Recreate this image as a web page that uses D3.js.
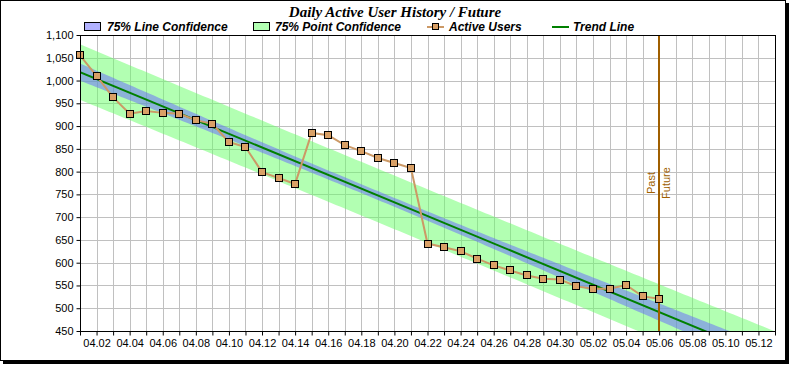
<!DOCTYPE html>
<html>
<head>
<meta charset="utf-8">
<script src="https://cdn.jsdelivr.net/npm/d3@7"></script>
<style>
  html, body { margin: 0; padding: 0; background: #fff; }
  svg { display: block; }
</style>
</head>
<body>
<svg id="chart" width="790" height="365"></svg>
<script>
// ---------- data ----------
const dates = ["04.01","04.02","04.03","04.04","04.05","04.06","04.07","04.08","04.09","04.10",
               "04.11","04.12","04.13","04.14","04.15","04.16","04.17","04.18","04.19","04.20",
               "04.21","04.22","04.23","04.24","04.25","04.26","04.27","04.28","04.29","04.30",
               "05.01","05.02","05.03","05.04","05.05","05.06"];
const activeUsers = [1055,1010,963,927,933,929,927,913,905,865,
                     854,799,786,773,885,880,858,845,830,819,
                     808,642,634,625,609,594,583,572,565,563,
                     548,543,543,551,526,521];
const xTickLabels = ["04.02","04.04","04.06","04.08","04.10","04.12","04.14","04.16","04.18","04.20",
                     "04.22","04.24","04.26","04.28","04.30","05.02","05.04","05.06","05.08","05.10","05.12"];
const yTicks = [450,500,550,600,650,700,750,800,850,900,950,1000,1050,1100];
const xDomain = ["04.01","05.13"];
const pastFutureDate = "05.06";
const confidence = 0.75;
const tValue = 1.168; // two-sided 75%, df = n-2 = 34
const legendItems = ["75% Line Confidence","75% Point Confidence","Active Users","Trend Line"];
const title = "Daily Active User History / Future";

// ---------- layout ----------
const W = 790, H = 365;
const plot = {left: 80, right: 775, top: 35, bottom: 331};
const parse = s => { const [m, d] = s.split(".").map(Number); return new Date(2024, m - 1, d); };

const svg = d3.select("#chart");
const x = d3.scaleTime().domain(xDomain.map(parse)).range([plot.left, plot.right]);
const y = d3.scaleLinear().domain([450, 1100]).range([plot.bottom, plot.top]);

// border with shadow
svg.append("rect").attr("x", 3).attr("y", 3).attr("width", 786).attr("height", 361).attr("fill", "#000");
svg.append("rect").attr("x", 0.5).attr("y", 0.5).attr("width", 785).attr("height", 360)
  .attr("fill", "#fff").attr("stroke", "#000").attr("stroke-width", 1);

// title
svg.append("text").attr("x", 395).attr("y", 17).attr("text-anchor", "middle")
  .attr("font-family", "'Liberation Serif','Times New Roman',serif")
  .attr("font-weight", "bold").attr("font-style", "italic").attr("font-size", 15)
  .text(title);

// plot background & grid
const allDays = d3.timeDay.range(parse(xDomain[0]), d3.timeDay.offset(parse(xDomain[1]), 1));
const grid = svg.append("g");
grid.selectAll("line.v").data(allDays).join("line")
  .attr("x1", d => Math.round(x(d)) + 0.5).attr("x2", d => Math.round(x(d)) + 0.5)
  .attr("y1", plot.top).attr("y2", plot.bottom).attr("stroke", "#c0c0c0");
grid.selectAll("line.h").data(yTicks).join("line")
  .attr("x1", plot.left).attr("x2", plot.right)
  .attr("y1", d => Math.round(y(d)) + 0.5).attr("y2", d => Math.round(y(d)) + 0.5).attr("stroke", "#c0c0c0");

// regression
const n = activeUsers.length;
const xs = d3.range(n);
const xm = d3.mean(xs), ym = d3.mean(activeUsers);
const Sxx = d3.sum(xs, v => (v - xm) ** 2);
const Sxy = d3.sum(xs, (v, i) => (v - xm) * (activeUsers[i] - ym));
const slope = Sxy / Sxx, intercept = ym - slope * xm;
const sse = d3.sum(xs, (v, i) => (activeUsers[i] - (intercept + slope * v)) ** 2);
const s = Math.sqrt(sse / (n - 2));
const t0 = parse(dates[0]);
const totalDays = d3.timeDay.count(t0, parse(xDomain[1]));
const samples = d3.range(0, totalDays + 0.001, 0.25);
const dayToDate = dd => new Date(t0.getTime() + dd * 86400000);
const fit = dd => intercept + slope * dd;
const hwLine = dd => tValue * s * Math.sqrt(1 / n + (dd - xm) ** 2 / Sxx);
const hwPoint = dd => tValue * s * Math.sqrt(1 + 1 / n + (dd - xm) ** 2 / Sxx);

svg.append("clipPath").attr("id", "clip").append("rect")
  .attr("x", plot.left).attr("y", plot.top).attr("width", plot.right - plot.left).attr("height", plot.bottom - plot.top);
const clipped = svg.append("g").attr("clip-path", "url(#clip)");

const band = d3.area().x(d => x(dayToDate(d)));
clipped.append("path").datum(samples)
  .attr("d", band.y0(d => y(fit(d) - hwPoint(d))).y1(d => y(fit(d) + hwPoint(d))))
  .attr("fill", "rgba(102,255,102,0.5)");
clipped.append("path").datum(samples)
  .attr("d", d3.area().x(d => x(dayToDate(d))).y0(d => y(fit(d) - hwLine(d))).y1(d => y(fit(d) + hwLine(d))))
  .attr("fill", "rgba(102,102,255,0.5)");
clipped.append("path").datum([0, totalDays])
  .attr("d", d3.line().x(d => x(dayToDate(d))).y(d => y(fit(d))))
  .attr("stroke", "#008000").attr("stroke-width", 2).attr("fill", "none");

// past/future mark
const pfx = Math.round(x(parse(pastFutureDate)));
const brown = "#a05f00";
svg.append("line").attr("x1", pfx).attr("x2", pfx).attr("y1", plot.top).attr("y2", plot.bottom)
  .attr("stroke", brown).attr("stroke-width", 2);
svg.append("text").attr("transform", `translate(${pfx - 4},183) rotate(-90)`).attr("text-anchor", "middle")
  .attr("font-family", "'Liberation Sans',Arial,sans-serif").attr("font-size", 11).attr("fill", brown).text("Past");
svg.append("text").attr("transform", `translate(${pfx + 3},183) rotate(-90)`).attr("text-anchor", "middle")
  .attr("dominant-baseline", "hanging")
  .attr("font-family", "'Liberation Sans',Arial,sans-serif").attr("font-size", 11).attr("fill", brown).text("Future");

// active users line
const pts = dates.map((d, i) => ({date: parse(d), v: activeUsers[i]}));
svg.append("path").datum(pts)
  .attr("d", d3.line().x(d => x(d.date)).y(d => y(d.v)))
  .attr("stroke", "#cc9966").attr("stroke-width", 2).attr("fill", "none");
svg.selectAll("rect.pt").data(pts).join("rect").attr("class", "pt")
  .attr("x", d => Math.round(x(d.date)) - 3.5).attr("y", d => Math.round(y(d.v)) - 3.5)
  .attr("width", 7).attr("height", 7).attr("fill", "#d9a066").attr("stroke", "#000").attr("stroke-width", 1);

// plot frame
svg.append("rect").attr("x", plot.left + 0.5).attr("y", plot.top + 0.5)
  .attr("width", plot.right - plot.left).attr("height", plot.bottom - plot.top)
  .attr("fill", "none").attr("stroke", "#000");

// axes
const font = "'Liberation Sans',Arial,sans-serif";
const yAxis = svg.append("g").attr("transform", `translate(${plot.left + 0.5},0)`)
  .call(d3.axisLeft(y).tickValues(yTicks).tickSize(4).tickPadding(3).tickFormat(d3.format(",")));
const xLabelDates = xTickLabels.map(parse);
const xAxis = svg.append("g").attr("transform", `translate(0,${plot.bottom + 0.5})`)
  .call(d3.axisBottom(x).tickValues(allDays).tickSize(4).tickPadding(4)
    .tickFormat(d => {
      const i = xLabelDates.findIndex(l => l.getTime() === d.getTime());
      return i >= 0 ? xTickLabels[i] : "";
    }));
[yAxis, xAxis].forEach(g => {
  g.select(".domain").remove();
  g.selectAll("line").attr("stroke", "#000");
  g.selectAll("text").attr("font-family", font).attr("font-size", 11).attr("fill", "#000");
});

// legend
const lg = svg.append("g").attr("font-family", font).attr("font-weight", "bold")
  .attr("font-style", "italic").attr("font-size", 12);
const ly = 27;
lg.append("rect").attr("x", 84.5).attr("y", 22.5).attr("width", 16).attr("height", 8)
  .attr("fill", "rgba(102,102,255,0.5)").attr("stroke", "#000");
lg.append("text").attr("x", 107).attr("y", ly + 4).text(legendItems[0]);
lg.append("rect").attr("x", 253.5).attr("y", 22.5).attr("width", 16).attr("height", 8)
  .attr("fill", "rgba(102,255,102,0.5)").attr("stroke", "#000");
lg.append("text").attr("x", 275).attr("y", ly + 4).text(legendItems[1]);
lg.append("line").attr("x1", 427).attr("x2", 444).attr("y1", ly).attr("y2", ly)
  .attr("stroke", "#cc9966").attr("stroke-width", 2);
lg.append("rect").attr("x", 432.5).attr("y", ly - 3.5).attr("width", 6).attr("height", 6)
  .attr("fill", "#d9a066").attr("stroke", "#000");
lg.append("text").attr("x", 449).attr("y", ly + 4).text(legendItems[2]);
lg.append("line").attr("x1", 552).attr("x2", 569).attr("y1", ly).attr("y2", ly)
  .attr("stroke", "#008000").attr("stroke-width", 2);
lg.append("text").attr("x", 573).attr("y", ly + 4).text(legendItems[3]);
</script>
</body>
</html>
